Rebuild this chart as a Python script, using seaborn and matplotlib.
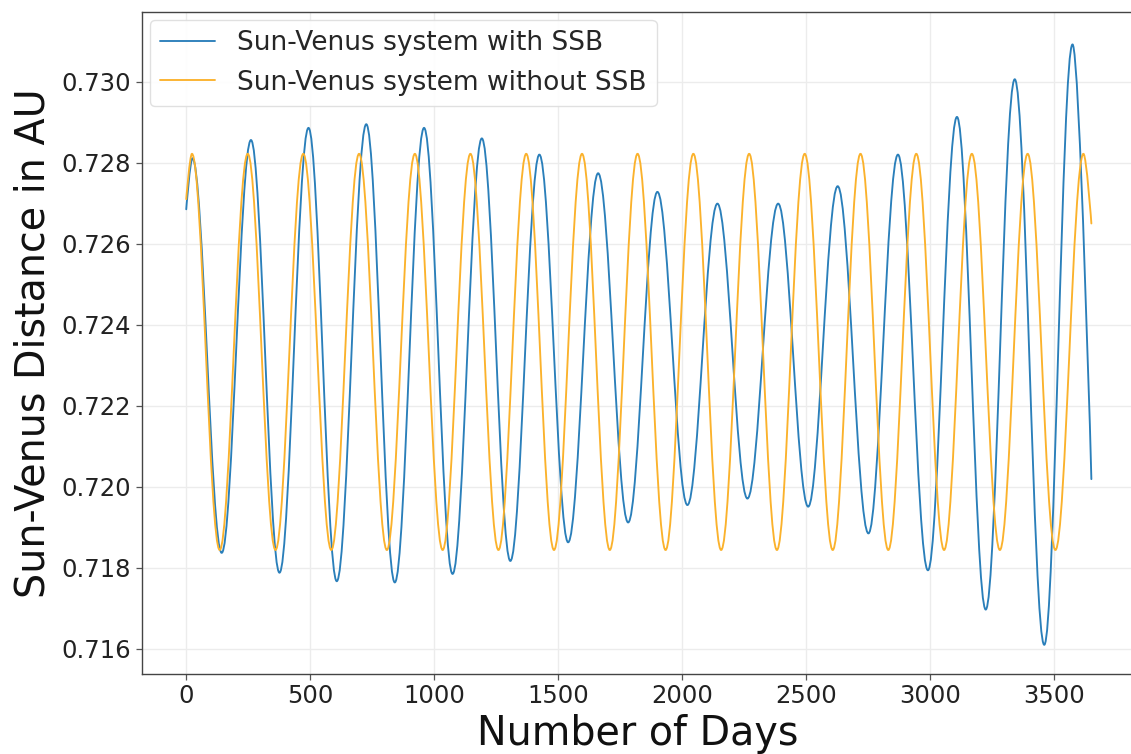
import matplotlib
matplotlib.use("Agg")
import matplotlib.pyplot as plt
from matplotlib.path import Path
from matplotlib.patches import PathPatch
from matplotlib.lines import Line2D
import pandas as pd
import seaborn as sns

# ---- data (turning points of each curve) ----
series_labels = ["Sun-Venus system with SSB", "Sun-Venus system without SSB"]

with_ssb_days = [0, 25, 143, 261, 376, 493, 607, 726, 841, 959, 1074, 1192,
                 1307, 1424, 1540, 1661, 1782, 1900, 2021, 2142, 2263, 2387,
                 2508, 2627, 2751, 2870, 2991, 3108, 3224, 3341, 3460, 3574, 3650]
with_ssb_au = [0.72685, 0.72811, 0.71837, 0.72856, 0.71788, 0.72886, 0.71767,
               0.72895, 0.71764, 0.72886, 0.71785, 0.72860, 0.71817, 0.72820,
               0.71863, 0.72774, 0.71912, 0.72728, 0.71955, 0.72699, 0.71971,
               0.72699, 0.71951, 0.72742, 0.71885, 0.72820, 0.71794, 0.72913,
               0.71697, 0.73006, 0.71610, 0.73092, 0.72019]

without_ssb_days = [0, 23, 135, 248, 360, 472, 585, 697, 809, 922, 1034, 1146,
                    1259, 1371, 1483, 1596, 1708, 1820, 1933, 2045, 2157, 2270,
                    2382, 2494, 2607, 2719, 2831, 2944, 3056, 3168, 3281, 3393,
                    3505, 3618, 3650]
without_ssb_au = [0.72710, 0.72822, 0.71844, 0.72822, 0.71844, 0.72822, 0.71844,
                  0.72822, 0.71844, 0.72822, 0.71844, 0.72822, 0.71844, 0.72822,
                  0.71844, 0.72822, 0.71844, 0.72822, 0.71844, 0.72822, 0.71844,
                  0.72822, 0.71844, 0.72822, 0.71844, 0.72822, 0.71844, 0.72822,
                  0.71844, 0.72822, 0.71844, 0.72822, 0.71844, 0.72822, 0.72650]

x_ticks = [0, 500, 1000, 1500, 2000, 2500, 3000, 3500]
y_ticks = [0.716, 0.718, 0.720, 0.722, 0.724, 0.726, 0.728, 0.730]

colors = {series_labels[0]: "#2a7fba", series_labels[1]: "#fbb22c"}

df = pd.concat([
    pd.DataFrame({"day": with_ssb_days, "au": with_ssb_au, "series": series_labels[0]}),
    pd.DataFrame({"day": without_ssb_days, "au": without_ssb_au, "series": series_labels[1]}),
], ignore_index=True)

sns.set_theme(style="white", rc={
    "axes.edgecolor": "#444444",
    "axes.linewidth": 1.0,
    "xtick.bottom": True,
    "ytick.left": True,
    "xtick.major.size": 4,
    "ytick.major.size": 4,
    "xtick.color": "#555555",
    "ytick.color": "#555555",
    "xtick.labelcolor": "#222222",
    "ytick.labelcolor": "#222222",
})
plt.rcParams["font.family"] = ["DejaVu Sans"]

fig = plt.figure(figsize=(11.31, 7.54), dpi=100)
ax = fig.add_axes([0.1252, 0.1061, 0.8880, 0.878])

LW = 1.35
sns.lineplot(data=df, x="day", y="au", hue="series", hue_order=series_labels,
             palette=colors, sort=False, estimator=None, legend=False,
             linewidth=LW, ax=ax)


def smooth(xs, ys, k=0.3634):
    """Cubic Bezier path through turning points with flat tangents there."""
    verts = [(xs[0], ys[0])]
    codes = [Path.MOVETO]
    n = len(xs)
    for i in range(n - 1):
        x0, y0, x1, y1 = xs[i], ys[i], xs[i + 1], ys[i + 1]
        dx = x1 - x0
        c1 = (x0 + k * dx, y0) if i > 0 else (x0, y0)
        c2 = (x1 - k * dx, y1) if i + 1 < n - 1 else (x1, y1)
        verts += [c1, c2, (x1, y1)]
        codes += [Path.CURVE4] * 3
    return Path(verts, codes)


for line in list(ax.lines):
    xs, ys = line.get_data()
    patch = PathPatch(smooth(list(xs), list(ys)), facecolor="none",
                      edgecolor=line.get_color(), linewidth=line.get_linewidth(),
                      zorder=line.get_zorder(), capstyle="round", joinstyle="round")
    ax.add_patch(patch)
    line.set_visible(False)

ax.set_xlim(-180, 3870)
ax.set_ylim(0.71538, 0.73172)
ax.set_xticks(x_ticks)
ax.set_yticks(y_ticks)
ax.set_yticklabels([f"{v:.3f}" for v in y_ticks])
ax.tick_params(labelsize=17.5, width=0.9)
ax.grid(True, color="#ececec", linewidth=1.0)
ax.set_axisbelow(True)

ax.set_xlabel("Number of Days", fontsize=28.5, color="#111111", labelpad=4, x=0.494)
ax.set_ylabel("Sun-Venus Distance in AU", fontsize=28.5, color="#111111", labelpad=6)

handles = [Line2D([], [], color=colors[s], linewidth=LW) for s in series_labels]
ax.legend(handles, series_labels, loc="upper left", fontsize=19,
          frameon=True, edgecolor="#dddddd", framealpha=0.9,
          borderaxespad=0.3, handlelength=2.1, handletextpad=0.8)

fig.savefig("out.png", dpi=100)
